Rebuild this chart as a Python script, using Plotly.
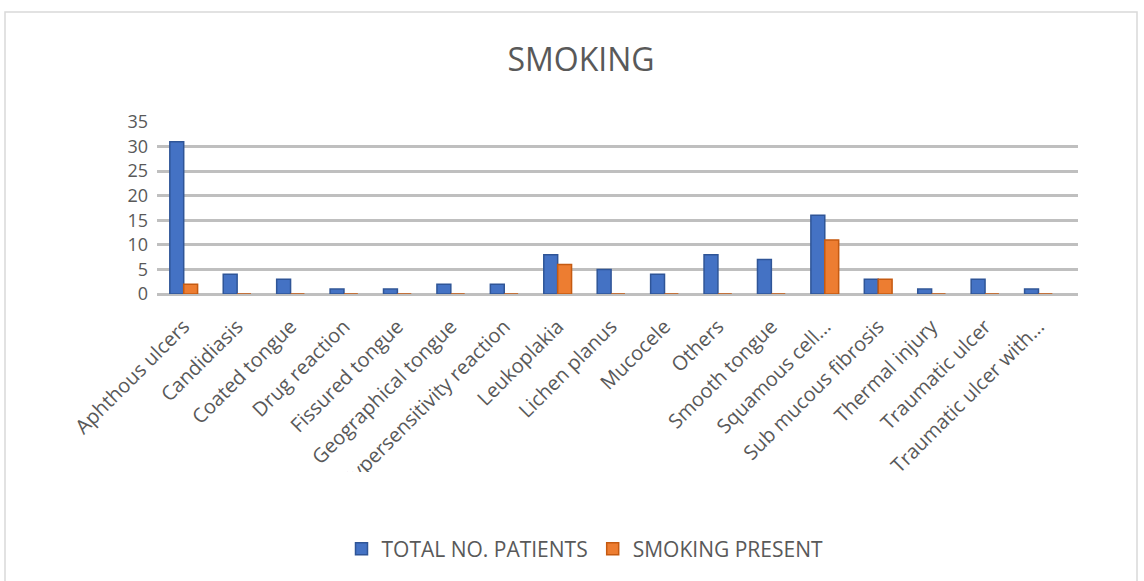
import plotly.graph_objects as go

categories = [
    "Aphthous ulcers", "Candidiasis", "Coated tongue", "Drug reaction",
    "Fissured tongue", "Geographical tongue", "Hypersensitivity reaction",
    "Leukoplakia", "Lichen planus", "Mucocele", "Others", "Smooth tongue",
    "Squamous cell...", "Sub mucous fibrosis", "Thermal injury",
    "Traumatic ulcer", "Traumatic ulcer with...",
]
total_patients = [31, 4, 3, 1, 1, 2, 2, 8, 5, 4, 8, 7, 16, 3, 1, 3, 1]
smoking_present = [2, 0, 0, 0, 0, 0, 0, 6, 0, 0, 0, 0, 11, 3, 0, 0, 0]
y_ticks = [0, 5, 10, 15, 20, 25, 30, 35]

W, H = 1144, 581
L, R, T, B = 157, 66, 122, 287
FONT = "Open Sans"
GREY_TXT = "#595959"

fig = go.Figure()
fig.add_trace(go.Bar(
    x=categories, y=total_patients, name="TOTAL NO. PATIENTS",
    marker=dict(color="#4472C4", line=dict(color="#2F5597", width=1.5)),
))
fig.add_trace(go.Bar(
    x=categories, y=smoking_present, name="SMOKING PRESENT",
    marker=dict(color="#ED7D31", line=dict(color="#C55A11", width=1.5)),
))

pw, ph = W - L - R, H - T - B


def px_x(p):
    return (p - L) / pw


def px_y(p):
    return (H - B - p) / ph


# outer chart border
fig.add_shape(
    type="rect", xref="paper", yref="paper",
    x0=px_x(5), x1=px_x(1137), y0=px_y(600), y1=px_y(12),
    line=dict(color="#D9D9D9", width=1.5), fillcolor="rgba(0,0,0,0)",
    layer="below",
)
# category label area is cut off below this line
fig.add_shape(
    type="rect", xref="paper", yref="paper",
    x0=px_x(40), x1=px_x(1100), y0=px_y(525), y1=px_y(472),
    line=dict(width=0), fillcolor="white", layer="above",
)

fig.update_layout(
    width=W, height=H,
    margin=dict(l=L, r=R, t=T, b=B),
    paper_bgcolor="white", plot_bgcolor="white",
    barmode="group", bargap=0.48, bargroupgap=0.0,
    font=dict(family=FONT, color=GREY_TXT),
    title=dict(
        text="SMOKING", x=581 / W, xref="container", xanchor="center",
        y=1 - 60 / H, yref="container", yanchor="middle",
        font=dict(size=32, color=GREY_TXT, family=FONT),
    ),
    legend=dict(
        orientation="h", xref="container", x=585 / W, xanchor="center",
        yref="container", y=1 - 549 / H, yanchor="middle",
        font=dict(size=21, color=GREY_TXT, family=FONT),
        itemwidth=30, traceorder="normal",
    ),
    xaxis=dict(
        range=[-0.5, 16.74], automargin=False,
        tickangle=-45, tickfont=dict(size=20, color=GREY_TXT),
        showgrid=False, showline=False, ticks="", ticklabelstandoff=16,
    ),
    yaxis=dict(
        range=[0, 35], tickvals=y_ticks, tickfont=dict(size=18, color=GREY_TXT),
        showgrid=True, gridcolor="#BFBFBF", gridwidth=2.5,
        zeroline=True, zerolinecolor="#BFBFBF", zerolinewidth=2.5,
        ticks="", ticklabelstandoff=8, automargin=False,
    ),
)

fig.write_html("out.html")
